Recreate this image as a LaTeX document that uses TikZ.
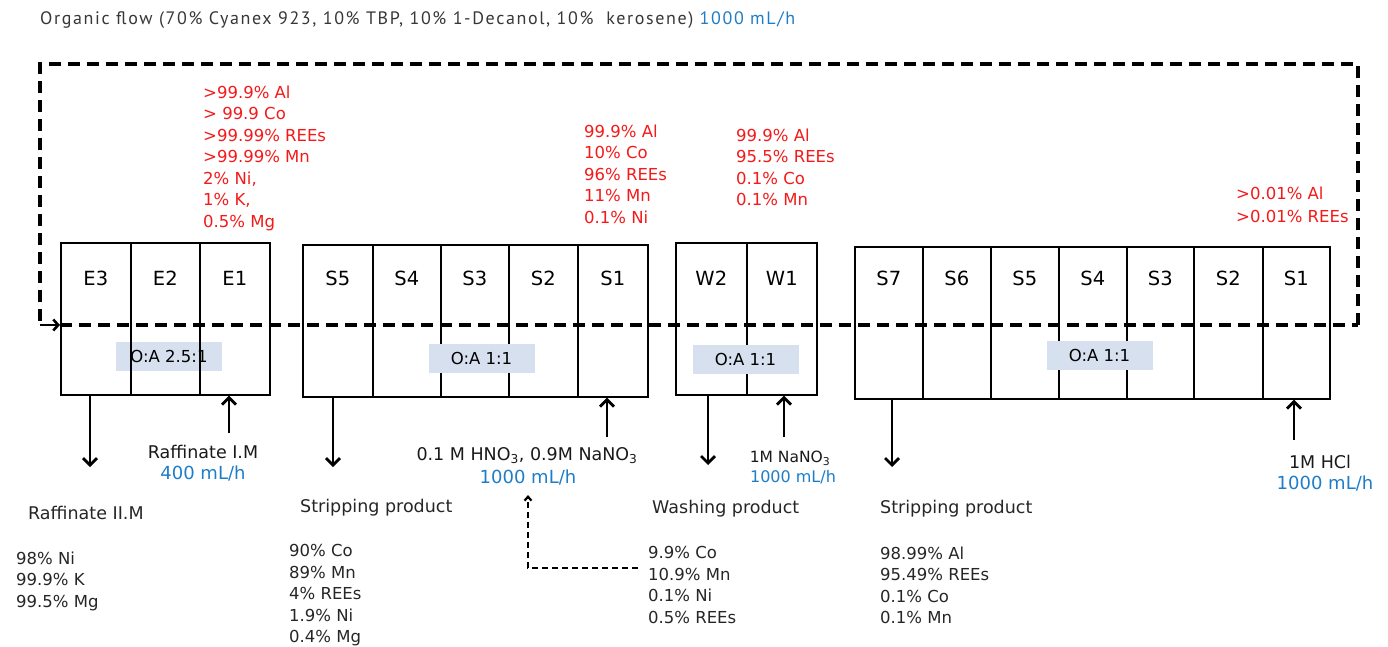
\documentclass[tikz,border=0pt]{standalone}
\usepackage{fontspec}
\setmainfont{DejaVu Sans}
\newfontfamily\topfont[LetterSpace=9]{PT Sans}
\usetikzlibrary{arrows.meta}
\definecolor{redtxt}{RGB}{245,25,25}
\definecolor{bluetxt}{RGB}{30,125,200}
\definecolor{oafill}{RGB}{214,224,238}
\definecolor{graytxt}{RGB}{55,55,55}
\begin{document}
\begin{tikzpicture}[x=1pt,y=-1pt,
  cell/.style={draw=black,line width=1.6pt,minimum height=152pt,anchor=north west,inner sep=0pt},
  celltxt/.style={font=\fontsize{19.5}{22}\selectfont,inner sep=0pt},
  oabox/.style={fill=oafill,minimum width=106pt,minimum height=29pt,inner sep=0pt,font=\fontsize{16.5}{18}\selectfont},
  redlist/.style={text=redtxt,align=left,anchor=north west,inner sep=0pt,font=\fontsize{16.5}{21.5}\selectfont},
  blklist/.style={text=black!85,align=left,anchor=north west,inner sep=0pt,font=\fontsize{16.5}{21.5}\selectfont},
  head/.style={text=black!85,anchor=west,inner sep=0pt,font=\fontsize{17.5}{20}\selectfont},
  feed/.style={text=black!90,inner sep=0pt,font=\fontsize{17.5}{20}\selectfont},
  rate/.style={text=bluetxt,inner sep=0pt,font=\fontsize{18}{20}\selectfont},
  flow/.style={line width=2.8pt,-{Straight Barb[length=7pt,width=14pt]}},
  orgloop/.style={line width=3.4pt,dash pattern=on 12pt off 7pt},
  recycle/.style={line width=2.2pt,dash pattern=on 6pt off 4pt,-{Straight Barb[length=4pt,width=7pt]}}
]
\useasboundingbox (0,0) rectangle (1388,646);

% top text
\node[anchor=west,inner sep=0pt,font=\topfont\fontsize{18}{20}\selectfont] (orgtxt) at (40,20)
  {\textcolor{graytxt}{Organic flow (70\% Cyanex 923, 10\% TBP, 10\% 1-Decanol, 10\%\ \ kerosene)} \textcolor{bluetxt}{1000 mL/h}};

% O:A label box under the extraction cells
\node[oabox] (oaE) at (169,356.5) {O:A 2.5:1};

% extraction cells
\foreach \n/\t/\x/\w in {E3/E3/60/70, E2/E2/130/69, E1/E1/199/70}{
  \node[cell,minimum width=\w pt] (\n) at (\x,242) {};
  \node[celltxt] at ([yshift=-36pt]\n.north) {\t};
}
% scrubbing
\foreach \n/\t/\x/\w in {SA5/S5/302/70, SA4/S4/372/68, SA3/S3/440/68, SA2/S2/508/69, SA1/S1/577/70}{
  \node[cell,minimum width=\w pt] (\n) at (\x,244) {};
  \node[celltxt] at ([yshift=-34pt]\n.north) {\t};
}
% washing
\foreach \n/\t/\x/\w in {W2/W2/675/71, W1/W1/746/70}{
  \node[cell,minimum width=\w pt] (\n) at (\x,242) {};
  \node[celltxt] at ([yshift=-36pt]\n.north) {\t};
}
% stripping
\foreach \n/\t/\x/\w in {SB7/S7/854/68, SB6/S6/922/68, SB5/S5/990/68, SB4/S4/1058/68, SB3/S3/1126/67, SB2/S2/1193/69, SB1/S1/1262/67}{
  \node[cell,minimum width=\w pt] (\n) at (\x,246) {};
  \node[celltxt] at ([yshift=-32pt]\n.north) {\t};
}

\node[oabox] (oaSA) at (481.5,358) {O:A 1:1};
\node[oabox] (oaW) at (745.5,359) {O:A 1:1};
\node[oabox] (oaSB) at (1099.5,355.5) {O:A 1:1};

% organic loop
\coordinate (loopin) at (60,325);
\coordinate (loopout) at (1358,325);
\coordinate (loopTR) at (1358,64);
\coordinate (loopTL) at (40,64);
\coordinate (loopBL) at (40,325);
\draw[orgloop] (loopout) -- (loopTR) -- (loopTL) -- (loopBL);
\draw[line width=2.6pt,-{Straight Barb[length=5pt,width=11pt]}] (loopBL) -- (loopin);
\draw[orgloop] (loopin) -- (loopout);

% red annotations
\node[redlist] (annE1) at (203,85.5) {>99.9\% Al\\> 99.9 Co\\>99.99\% REEs\\>99.99\% Mn\\2\% Ni,\\1\% K,\\0.5\% Mg};
\node[redlist] (annSA1) at (584,124.5) {99.9\% Al\\10\% Co\\96\% REEs\\11\% Mn\\0.1\% Ni};
\node[redlist] (annW1) at (736,128.5) {99.9\% Al\\95.5\% REEs\\0.1\% Co\\0.1\% Mn};
\node[redlist,font=\fontsize{16.5}{23}\selectfont] (annSB1) at (1236,186.5) {>0.01\% Al\\>0.01\% REEs};

% feeds and products
\coordinate (raffIIend) at (90,467);
\draw[flow] (E3.south -| raffIIend) -- (raffIIend);
\coordinate (raffIin) at (229,433);
\draw[flow] (raffIin) -- (raffIin |- E1.south);
\node[feed] (raffI) at (203,452) {Raffinate I.M};
\node[rate] (raffIrate) at (203,473) {400 mL/h};

\coordinate (stripAend) at (333,467);
\draw[flow] (SA5.south -| stripAend) -- (stripAend);
\coordinate (scrubin) at (607,437);
\draw[flow] (scrubin) -- (scrubin |- SA1.south);
\node[feed] (scrub) at (527,456) {0.1 M HNO\textsubscript{3}, 0.9M NaNO\textsubscript{3}};
\node[rate] (scrubrate) at (528,477) {1000 mL/h};

\coordinate (washend) at (708,465);
\draw[flow] (W2.south -| washend) -- (washend);
\coordinate (washin) at (784,437);
\draw[flow] (washin) -- (washin |- W1.south);
\node[feed,font=\fontsize{15.5}{18}\selectfont] (washfeed) at (790,458) {1M NaNO\textsubscript{3}};
\node[rate,font=\fontsize{16}{18}\selectfont] (washrate) at (793,477) {1000 mL/h};

\coordinate (stripBend) at (892,467);
\draw[flow] (SB7.south -| stripBend) -- (stripBend);
\coordinate (stripBin) at (1294,440);
\draw[flow] (stripBin) -- (stripBin |- SB1.south);
\node[feed] (hcl) at (1320,462) {1M HCl};
\node[rate] (hclrate) at (1325,483) {1000 mL/h};

% product blocks
\node[head] (raffIIh) at (28,513) {Raffinate II.M};
\node[blklist] (raffIIl) at (16,551.5) {98\% Ni\\99.9\% K\\99.5\% Mg};
\node[head] (stripAh) at (300,508) {Stripping product};
\node[blklist] (stripAl) at (289,544.5) {90\% Co\\89\% Mn\\4\% REEs\\1.9\% Ni\\0.4\% Mg};
\node[head] (washh) at (652,509) {Washing product};
\node[blklist] (washl) at (648,546.5) {9.9\% Co\\10.9\% Mn\\0.1\% Ni\\0.5\% REEs};
\node[head] (stripBh) at (880,509) {Stripping product};
\node[blklist] (stripBl) at (880,546.5) {98.99\% Al\\95.49\% REEs\\0.1\% Co\\0.1\% Mn};

% recycle of washing product
\coordinate (recA) at (638,568);
\coordinate (recB) at (528,568);
\draw[recycle] (recA) -- (recB) -- (recB |- 0,495);
\end{tikzpicture}
\end{document}
